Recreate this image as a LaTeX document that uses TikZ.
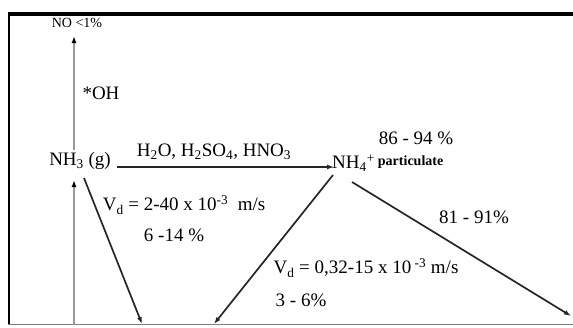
\documentclass[tikz,border=0pt]{standalone}
\usepackage{fontspec}
\setmainfont{Liberation Serif}
\usetikzlibrary{arrows.meta}
\begin{document}
\begin{tikzpicture}[x=1pt,y=-1pt,
  lbl/.style={inner sep=0pt,font=\fontsize{19}{21}\selectfont},
  small/.style={inner sep=0pt,font=\fontsize{14}{15}\selectfont},
  blk/.style={draw=black!85,line width=1.7pt,-{Latex[length=7pt,width=5pt]}},
  gry/.style={draw=black!40,line width=2pt,-{Latex[length=7pt,width=5pt,color=black]}}]
\useasboundingbox (0,0) rectangle (573,327);
\draw[line width=4pt] (8,14) -- (573,14);
\draw[line width=2.5pt] (9,12) -- (9,325);
\draw[draw=black!50,line width=1.5pt] (8,324.5) -- (573,324.5);
% texts
\node[small] (no) at (77,23) {NO <1\%};
\node[lbl] (oh) at (101,93) {*OH};
\node[lbl] (nh3) at (80,161) {NH\textsubscript{3} (g)};
\node[lbl] (acids) at (214,152) {H\textsubscript{2}O, H\textsubscript{2}SO\textsubscript{4}, HNO\textsubscript{3}};
\node[lbl,anchor=west] (nh4) at (332,163) {NH\textsubscript{4}\textsuperscript{+}\,\raisebox{3pt}{\fontsize{14}{15}\selectfont\bfseries particulate}};
\node[lbl] (p1) at (416,138) {86 - 94 \%};
\node[lbl] (p2) at (474,217) {81 - 91\%};
\node[lbl] (vd1) at (184,205) {V\textsubscript{d} = 2-40 x 10\textsuperscript{-3}~ m/s};
\node[lbl] (p3) at (174,235) {6 -14 \%};
\node[lbl] (vd2) at (366,268) {V\textsubscript{d} = 0,32-15 x 10\textsuperscript{ -3} m/s};
\node[lbl] (p4) at (301,300) {3 - 6\%};
% coordinates
\coordinate (bot1) at (74,325);
\coordinate (nh3b) at (74,180);
\coordinate (nh3t) at (74,150);
\coordinate (not) at (74,36);
\coordinate (a1s) at (117,167);
\coordinate (a1e) at (334,167);
\coordinate (d1s) at (84,178);
\coordinate (d1e) at (142,324);
\coordinate (d2s) at (333,175);
\coordinate (d2e) at (214,324);
\coordinate (d3s) at (352,182);
\coordinate (d3e) at (571,316);
\draw[gry] (bot1) -- (nh3b);
\draw[gry] (nh3t) -- (not);
\draw[blk,line width=1.3pt] (a1s) -- (a1e);
\draw[blk] (d1s) -- (d1e);
\draw[blk] (d2s) -- (d2e);
\draw[blk] (d3s) -- (d3e);
\end{tikzpicture}
\end{document}
